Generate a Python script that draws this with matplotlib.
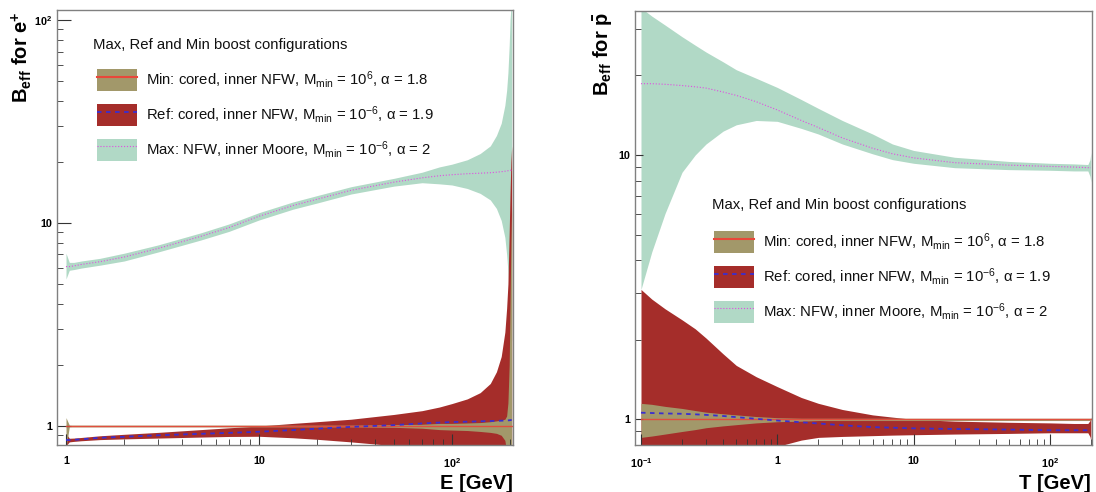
import matplotlib
matplotlib.use("Agg")
import matplotlib.pyplot as plt
from matplotlib.patches import Patch
from matplotlib.lines import Line2D
from matplotlib.ticker import LogLocator, NullFormatter

plt.rcParams['font.family'] = ['Liberation Sans', 'DejaVu Sans']
plt.rcParams['mathtext.fontset'] = 'custom'
plt.rcParams['mathtext.rm'] = 'Liberation Sans'
plt.rcParams['mathtext.it'] = 'Liberation Sans:italic'
plt.rcParams['mathtext.bf'] = 'Liberation Sans:bold'
plt.rcParams['mathtext.default'] = 'regular'

# %% data: positrons, B_eff vs E [GeV]
E = [1.0, 1.04, 1.1, 1.2, 1.5, 2, 3, 5, 7, 10, 15, 20, 30, 50, 70, 86, 100, 120, 140,
     158, 170, 180, 188, 192, 195, 198, 200, 202, 204]
e_max = [6.1, 6.1, 6.15, 6.25, 6.45, 6.8, 7.5, 8.6, 9.5, 10.8, 12.2, 13.1, 14.5, 15.9, 16.7,
         17.1, 17.3, 17.5, 17.6, 17.7, 17.8, 17.9, 18.0, 18.0, 18.1, 18.1, 18.2, 18.2, 18.3]
e_max_lo = [5.3, 5.85, 5.9, 6.0, 6.2, 6.5, 7.2, 8.25, 9.1, 10.35, 11.7, 12.55, 13.9, 15.2, 15.8,
            15.6, 15.4, 14.8, 14.0, 13.0, 11.8, 10.3, 8.5, 7.0, 5.8, 4.6, 3.8, 3.0, 2.6]
e_max_hi = [7.1, 6.4, 6.4, 6.5, 6.7, 7.1, 7.8, 8.95, 9.9, 11.25, 12.7, 13.65, 15.1, 16.6, 17.8,
            18.9, 19.5, 20.5, 22, 24, 27, 31, 38, 45, 55, 75, 100, 115, 115]
e_ref = [0.853, 0.853, 0.855, 0.86, 0.875, 0.885, 0.9, 0.915, 0.925, 0.937, 0.955, 0.97, 0.99,
         1.01, 1.03, 1.04, 1.046, 1.05, 1.055, 1.058, 1.06, 1.062, 1.064, 1.065, 1.066, 1.067,
         1.068, 1.07, 1.07]
e_ref_lo = [0.80, 0.835, 0.84, 0.846, 0.857, 0.864, 0.872, 0.882, 0.888, 0.89, 0.875, 0.86, 0.835,
            0.80, 0.77, 0.75, 0.73, 0.70, 0.67, 0.64, 0.60, 0.55, 0.50, 0.45, 0.40, 0.35, 0.30,
            0.30, 0.30]
e_ref_hi = [0.92, 0.87, 0.872, 0.878, 0.895, 0.91, 0.93, 0.96, 0.98, 1.0, 1.03, 1.05, 1.08,
            1.14, 1.19, 1.24, 1.29, 1.36, 1.46, 1.62, 1.85, 2.2, 2.9, 3.8, 5.0, 9.0, 14, 20, 24]
e_min = [1.0] * len(E)
e_min_lo = [0.78, 0.99, 0.99, 0.99, 0.99, 0.99, 0.99, 0.99, 0.99, 0.99, 0.99, 0.99, 0.99, 0.985,
            0.975, 0.96, 0.955, 0.95, 0.94, 0.93, 0.92, 0.90, 0.85, 0.75, 0.60, 0.45, 0.35, 0.30,
            0.30]
e_min_hi = [1.1, 1.01, 1.01, 1.01, 1.01, 1.01, 1.01, 1.01, 1.01, 1.01, 1.01, 1.01, 1.01, 1.015,
            1.02, 1.03, 1.03, 1.035, 1.04, 1.05, 1.06, 1.07, 1.08, 1.12, 1.3, 2.0, 4.0, 8.0, 12.3]

# %% data: antiprotons, B_eff vs T [GeV]
T = [0.1, 0.12, 0.15, 0.2, 0.25, 0.3, 0.4, 0.5, 0.7, 1, 1.5, 2, 3, 5, 7, 10, 20, 50, 100,
     150, 190, 197, 200]
p_max = [18.6, 18.6, 18.5, 18.3, 18.1, 17.9, 17.3, 16.8, 15.9, 14.8, 13.5, 12.7, 11.6, 10.6,
         10.1, 9.75, 9.35, 9.15, 9.05, 9.0, 8.95, 8.95, 8.95]
p_max_lo = [3.1, 4.3, 6.0, 8.6, 10.0, 11.0, 12.3, 13.0, 13.5, 13.4, 12.6, 12.0, 11.0, 10.1, 9.6,
            9.3, 8.95, 8.8, 8.75, 8.7, 8.7, 8.3, 7.9]
p_max_hi = [36, 33.5, 31, 28, 26, 24.5, 22.5, 21, 19.5, 18, 16.2, 15, 13.5, 12, 11.0, 10.4,
            9.8, 9.45, 9.3, 9.25, 9.2, 9.6, 10.2]
p_ref = [1.06, 1.057, 1.053, 1.05, 1.045, 1.04, 1.03, 1.02, 1.005, 0.99, 0.975, 0.965, 0.95,
         0.935, 0.93, 0.925, 0.92, 0.915, 0.91, 0.91, 0.91, 0.91, 0.91]
p_ref_lo = [0.5, 0.52, 0.55, 0.6, 0.63, 0.66, 0.7, 0.73, 0.77, 0.79, 0.835, 0.855, 0.862, 0.868,
            0.872, 0.875, 0.88, 0.885, 0.89, 0.89, 0.89, 0.86, 0.83]
p_ref_hi = [3.1, 2.85, 2.62, 2.38, 2.2, 2.03, 1.77, 1.6, 1.45, 1.33, 1.21, 1.15, 1.09, 1.04, 1.02,
            1.0, 0.985, 0.975, 0.97, 0.965, 0.965, 0.99, 1.02]
p_min = [1.0] * len(T)
p_min_lo = [0.855, 0.865, 0.88, 0.9, 0.915, 0.93, 0.945, 0.955, 0.97, 0.98, 0.985, 0.99, 0.99,
            0.99, 0.99, 0.99, 0.99, 0.99, 0.99, 0.99, 0.99, 0.99, 0.99]
p_min_hi = [1.15, 1.14, 1.12, 1.1, 1.08, 1.065, 1.05, 1.04, 1.025, 1.015, 1.01, 1.01, 1.01, 1.01,
            1.01, 1.01, 1.01, 1.01, 1.01, 1.01, 1.01, 1.01, 1.01]

legend_title = 'Max, Ref and Min boost configurations'
labels = [r'Min: cored, inner NFW, M$_{min}$ = 10$^{6}$, $\alpha$ = 1.8',
          r'Ref: cored, inner NFW, M$_{min}$ = 10$^{-6}$, $\alpha$ = 1.9',
          r'Max: NFW, inner Moore, M$_{min}$ = 10$^{-6}$, $\alpha$ = 2']

c_max, c_ref, c_min = '#b1d9c6', '#a52d2a', '#a2986a'
l_min, l_ref, l_max = '#e8473a', '#3a2ed0', '#e04ee0'
FS = 10.7


def draw(ax, x, mx, mlo, mhi, rf, rlo, rhi, mn, nlo, nhi):
    ax.fill_between(x, mlo, mhi, color=c_max, lw=0)
    ax.fill_between(x, rlo, rhi, color=c_ref, lw=0)
    ax.fill_between(x, nlo, nhi, color=c_min, lw=0)
    ax.plot(x, mn, color=l_min, lw=1.0, alpha=0.9)
    ax.plot(x, rf, color=l_ref, lw=1.3, dashes=(2.5, 2.5))
    ax.plot(x, mx, color=l_max, lw=0.8, ls=':')


def style(ax, xt, xl, yt, yl, ymaj):
    ax.set_xscale('log')
    ax.set_yscale('log')
    for s in ax.spines.values():
        s.set_color('#808080')
        s.set_linewidth(1.0)
    ax.set_xticks(xt)
    ax.set_xticklabels(xl)
    ax.set_yticks(yt)
    ax.set_yticklabels(yl)
    ax.xaxis.set_minor_locator(LogLocator(base=10, subs=range(2, 10)))
    ax.yaxis.set_minor_locator(LogLocator(base=10, subs=range(2, 10)))
    ax.xaxis.set_minor_formatter(NullFormatter())
    ax.yaxis.set_minor_formatter(NullFormatter())
    ax.tick_params(which='both', direction='in', top=False, right=False,
                   labelsize=7.8, color='#333333')
    ax.tick_params(axis='x', which='major', length=8, pad=8)
    ax.tick_params(axis='x', which='minor', length=4.3)
    ax.tick_params(axis='y', which='major', length=ymaj, pad=3.5)
    ax.tick_params(axis='y', which='minor', length=4.3)
    for t in ax.get_xticklabels() + ax.get_yticklabels():
        t.set_fontweight('bold')


def add_legend(ax, title_xy, box_xy):
    fig.text(title_xy[0] / 1096, 1 - title_xy[1] / 492, legend_title, fontsize=FS,
             ha='left', va='center', color='#111111')
    h = [(Patch(facecolor=c_min, edgecolor='none'), Line2D([], [], color=l_min, lw=1.5)),
         (Patch(facecolor=c_ref, edgecolor='none'), Line2D([], [], color=l_ref, lw=1.3, dashes=(2.5, 2.5))),
         (Patch(facecolor=c_max, edgecolor='none'), Line2D([], [], color=l_max, lw=0.8, ls=':'))]
    leg = ax.legend(h, labels, loc='upper left',
                    bbox_to_anchor=(box_xy[0] / 1096, 1 - box_xy[1] / 492),
                    bbox_transform=fig.transFigure, frameon=False,
                    fontsize=FS, handlelength=2.69, handleheight=1.9,
                    labelspacing=0.86, handletextpad=0.6, borderpad=0, borderaxespad=0)
    for t in leg.get_texts():
        t.set_color('#111111')


fig = plt.figure(figsize=(10.96, 4.92), dpi=100)
ax1 = fig.add_axes([0.052, 0.0955, 0.416, 0.884])
ax2 = fig.add_axes([0.5794, 0.0955, 0.417, 0.882])

draw(ax1, E, e_max, e_max_lo, e_max_hi, e_ref, e_ref_lo, e_ref_hi, e_min, e_min_lo, e_min_hi)
style(ax1, [1, 10, 100], ['1', '10', r'$\mathbf{10^{2}}$'],
      [1, 10, 100], ['1', '10', r'$\mathbf{10^{2}}$'], 10)
ax1.set_xlim(0.898, 207)
ax1.set_ylim(0.806, 112)
add_legend(ax1, (93, 45), (97, 69))

draw(ax2, T, p_max, p_max_lo, p_max_hi, p_ref, p_ref_lo, p_ref_hi, p_min, p_min_lo, p_min_hi)
style(ax2, [0.1, 1, 10, 100], [r'$\mathbf{10^{-1}}$', '1', '10', r'$\mathbf{10^{2}}$'],
      [1, 10], ['1', '10'], 5.5)
ax2.set_xlim(0.0904, 204)
ax2.set_ylim(0.80, 35)
add_legend(ax2, (712, 205), (714, 231))

fig.text(0.020, 0.976, r'$\mathbf{B_{eff}\ for\ e^{+}}$', rotation=90, ha='center', va='top',
         fontsize=14.5)
fig.text(0.550, 0.976, r'$\mathbf{B_{eff}\ for\ \bar{p}}$', rotation=90, ha='center', va='top',
         fontsize=14.5)
fig.text(0.468, 0.018, 'E [GeV]', ha='right', va='center', fontsize=14.5, fontweight='bold')
fig.text(0.995, 0.018, 'T [GeV]', ha='right', va='center', fontsize=14.5, fontweight='bold')

fig.savefig('out.png', dpi=100)
